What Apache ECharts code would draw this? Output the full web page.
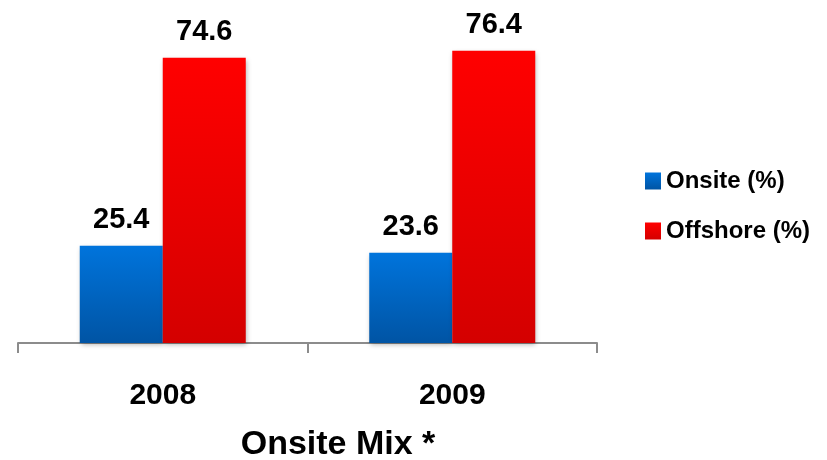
<!DOCTYPE html>
<html>
<head>
<meta charset="utf-8">
<script src="https://cdn.jsdelivr.net/npm/echarts@6/dist/echarts.min.js"></script>
<style>
  html, body { margin: 0; padding: 0; background: #fff; }
  #chart { width: 827px; height: 460px; }
</style>
</head>
<body>
<div id="chart"></div>
<script>
// Onsite / offshore revenue mix by year
const years = ['2008', '2009'];
const onsite = [25.4, 23.6];
const offshore = [74.6, 76.4];
const seriesNames = ['Onsite (%)', 'Offshore (%)'];
const titleText = 'Onsite Mix *';

const FONT = '"Liberation Sans", Arial, sans-serif';

function vGrad(top, bottom) {
  return new echarts.graphic.LinearGradient(0, 0, 0, 1, [
    { offset: 0, color: top },
    { offset: 1, color: bottom }
  ]);
}

const labelStyle = {
  show: true,
  position: 'top',
  distance: 11,
  color: '#000',
  fontFamily: FONT,
  fontWeight: 'bold',
  fontSize: 29,
  formatter: p => p.value.toFixed(1)
};

const chart = echarts.init(document.getElementById('chart'), null, { renderer: 'canvas' });
chart.setOption({
  animation: false,
  backgroundColor: '#ffffff',
  title: {
    text: titleText,
    left: 333,
    textAlign: 'center',
    top: 423,
    textStyle: { fontFamily: FONT, fontWeight: 'bold', fontSize: 34, color: '#000' }
  },
  legend: {
    orient: 'vertical',
    left: 640,
    top: 164,
    itemWidth: 16,
    itemHeight: 17,
    itemGap: 26,
    icon: 'rect',
    textStyle: { fontFamily: FONT, fontWeight: 'bold', fontSize: 24, color: '#000', padding: [0, 0, 0, 0] },
    data: seriesNames
  },
  grid: { left: 18, right: 230, top: 37, bottom: 117, containLabel: false },
  xAxis: {
    type: 'category',
    data: years,
    axisLine: { lineStyle: { color: '#8c8c8c', width: 2 } },
    axisTick: { show: true, length: 10, lineStyle: { color: '#8c8c8c', width: 2 } },
    axisLabel: { margin: 38, color: '#000', fontFamily: FONT, fontWeight: 'bold', fontSize: 30 }
  },
  yAxis: {
    type: 'value',
    min: 0,
    max: 80,
    show: false,
    splitLine: { show: false }
  },
  series: [
    {
      name: seriesNames[0],
      type: 'bar',
      data: onsite,
      barWidth: 83,
      barGap: '0%',
      itemStyle: {
        color: vGrad('#0074dc', '#0054a4'),
        shadowBlur: 5,
        shadowColor: 'rgba(0,0,0,0.3)',
        shadowOffsetX: 1,
        shadowOffsetY: 2
      },
      label: labelStyle
    },
    {
      name: seriesNames[1],
      type: 'bar',
      data: offshore,
      barWidth: 83,
      barGap: '0%',
      itemStyle: {
        color: vGrad('#ff0000', '#d40000'),
        shadowBlur: 5,
        shadowColor: 'rgba(0,0,0,0.3)',
        shadowOffsetX: 1,
        shadowOffsetY: 2
      },
      label: labelStyle
    }
  ]
});
</script>
</body>
</html>
